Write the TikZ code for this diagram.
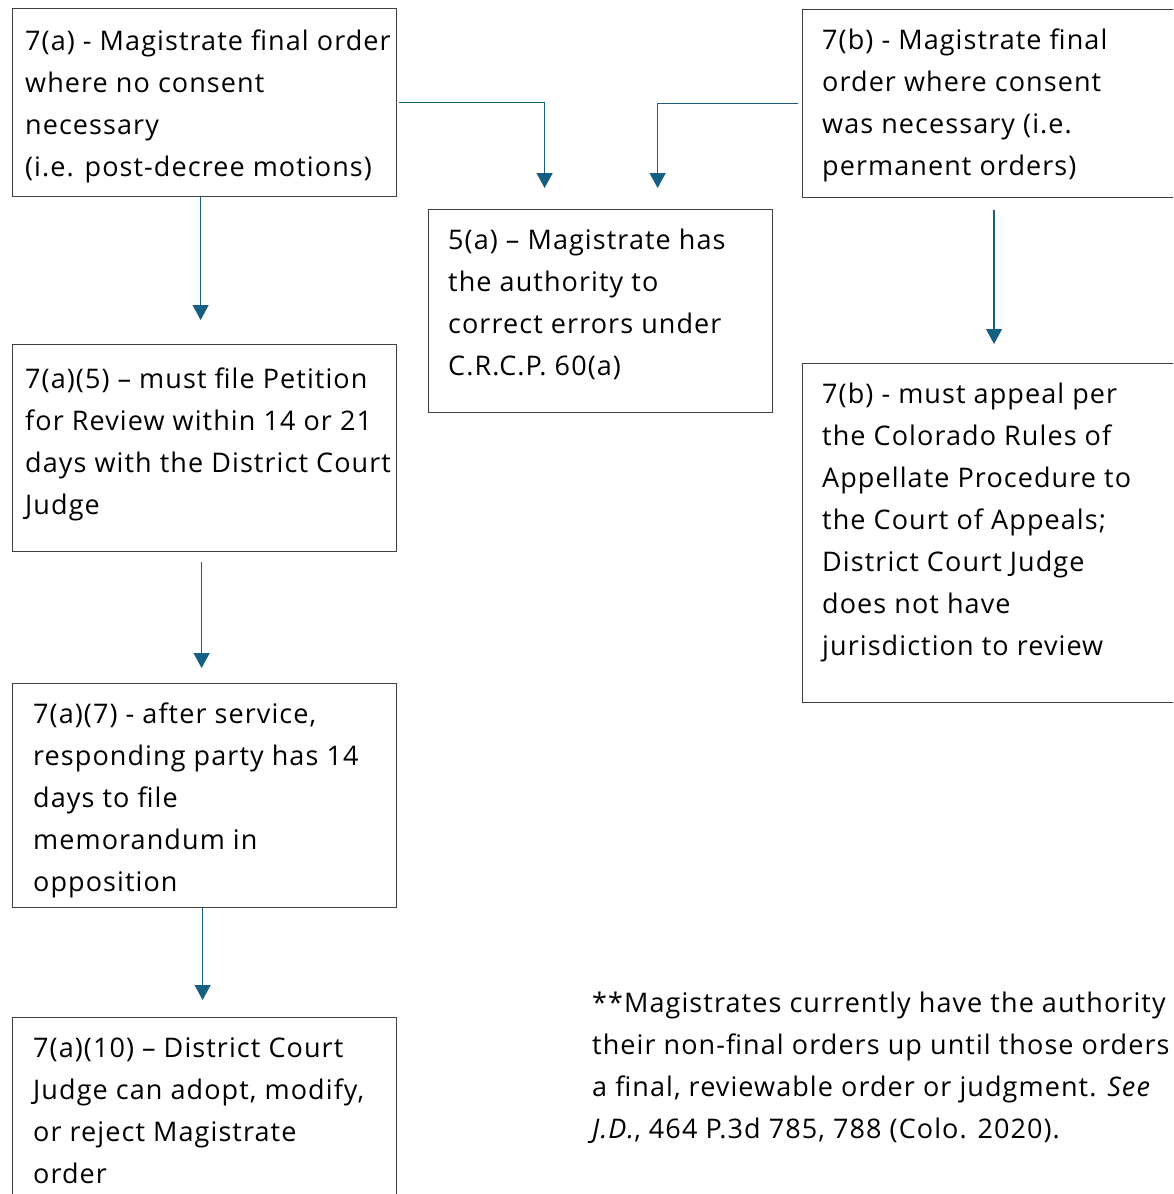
\documentclass[tikz,border=0pt]{standalone}
\usepackage{fontspec}
\setmainfont{Open Sans}[LetterSpace=4]
\usetikzlibrary{arrows.meta}
\definecolor{arrowblue}{HTML}{156082}
\definecolor{boxgray}{HTML}{404040}
\tikzset{
  box/.style={draw=boxgray, line width=1.2pt},
  txt/.style={anchor=north west, inner sep=0pt, align=left, font=\fontsize{27}{42}\selectfont},
  conn/.style={draw=arrowblue, line width=1.3pt, -{Triangle[width=16pt,length=15pt]}}
}
\begin{document}
\begin{tikzpicture}[x=1pt,y=-1pt]
\useasboundingbox (0,0) rectangle (1173,1194);
\clip (0,0) rectangle (1173,1194);
\fill[white] (0,0) rectangle (1173,1194);
% boxes
\node[box, minimum width=384pt, minimum height=188pt, anchor=north west, inner sep=0pt] (A) at (12,8) {};
\node[box, minimum width=344pt, minimum height=203pt, anchor=north west, inner sep=0pt] (B) at (428,209) {};
\node[box, minimum width=420pt, minimum height=188pt, anchor=north west, inner sep=0pt] (C) at (802,9) {};
\node[box, minimum width=384pt, minimum height=207pt, anchor=north west, inner sep=0pt] (D) at (12,344) {};
\node[box, minimum width=420pt, minimum height=339pt, anchor=north west, inner sep=0pt] (E) at (802,363) {};
\node[box, minimum width=384pt, minimum height=224pt, anchor=north west, inner sep=0pt] (F) at (12,683) {};
\node[box, minimum width=384pt, minimum height=240pt, anchor=north west, inner sep=0pt] (G) at (12,1017) {};
% texts
\node[txt] (tA) at (25,20.6) {\strut 7(a) - Magistrate final order\\where no consent\\necessary\\(i.e. post-decree motions)};
\node[txt] (tB) at (448,219.6) {\strut 5(a) -- Magistrate has\\the authority to\\correct errors under\\C.R.C.P. 60(a)};
\node[txt] (tC) at (822,19.6) {\strut 7(b) - Magistrate final\\order where consent\\was necessary (i.e.\\permanent orders)};
\node[txt] (tD) at (25,358.6) {\strut 7(a)(5) -- must file Petition\\for Review within 14 or 21\\days with the District Court\\Judge};
\node[txt] (tE) at (822,373.6) {\strut 7(b) - must appeal per\\the Colorado Rules of\\Appellate Procedure to\\the Court of Appeals;\\District Court Judge\\does not have\\jurisdiction to review};
\node[txt] (tF) at (33,693.6) {\strut 7(a)(7) - after service,\\responding party has 14\\days to file\\memorandum in\\opposition};
\node[txt] (tG) at (33,1027.6) {\strut 7(a)(10) -- District Court\\Judge can adopt, modify,\\or reject Magistrate\\order};
\node[txt] (note) at (592,982.6) {\strut **Magistrates currently have the authority\\their non-final orders up until those orders\\a final, reviewable order or judgment. \textit{See}\\\textit{J.D.}, 464 P.3d 785, 788 (Colo. 2020).};
% connectors
\draw[conn, shorten >=21pt] ([xshift=2pt]A.east) -| ([xshift=-56pt]B.north);
\draw[conn, shorten >=21pt] ([xshift=-4pt]C.west) -| ([xshift=57pt]B.north);
\draw[conn, shorten >=24pt] ([xshift=-4pt]A.south) -- ([xshift=-4pt]A.south |- D.north);
\draw[conn, shorten <=10pt, shorten >=15pt] ([xshift=-3pt]D.south) -- ([xshift=-3pt]D.south |- F.north);
\draw[conn, shorten >=17pt] ([xshift=-2pt]F.south) -- ([xshift=-2pt]F.south |- G.north);
\draw[conn, shorten <=12pt, shorten >=19pt] (C.south -| 994,0) -- (E.north -| 994,0);
\end{tikzpicture}
\end{document}
